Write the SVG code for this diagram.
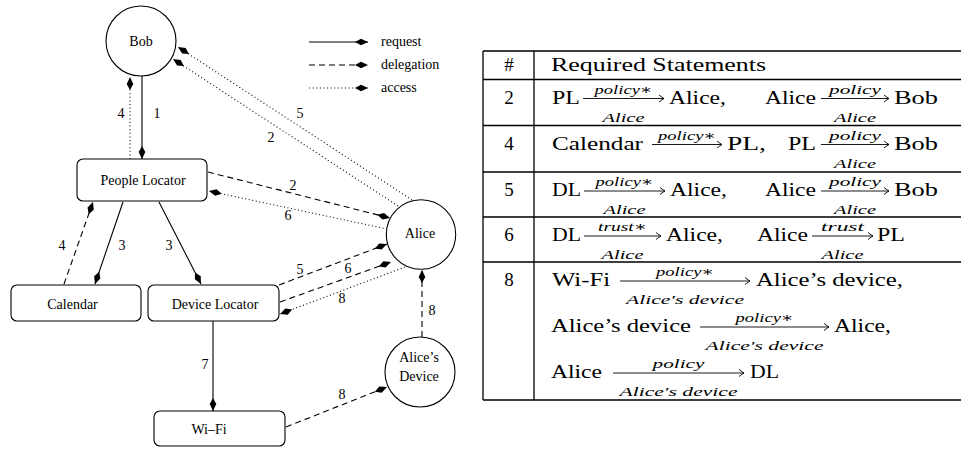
<svg xmlns="http://www.w3.org/2000/svg" width="961" height="450" viewBox="0 0 961 450">
<style>
.nd{fill:#fff;stroke:#000;stroke-width:1.1}
.nt{font-family:"Liberation Serif","Times New Roman","DejaVu Serif",serif;font-size:14px;text-anchor:middle;fill:#000}
.e{fill:none;stroke:#000;stroke-width:1.1}
.da{stroke-dasharray:6 4}
.do{stroke-dasharray:1 2.6}
.m{font-family:"Liberation Serif","Times New Roman","DejaVu Serif",serif;font-size:19px;fill:#000}
.s{font-family:"Liberation Serif","Times New Roman","DejaVu Serif",serif;font-style:italic;font-size:13px;fill:#000}
.c{text-anchor:middle}
.tl{stroke:#000;stroke-width:1.3;fill:none}
.ta{stroke:#000;stroke-width:0.9;fill:none}
</style>
<defs>
<marker id="hd" viewBox="-13 -4 13 8" markerWidth="13" markerHeight="8" refX="0" refY="0" orient="auto" markerUnits="userSpaceOnUse">
<path d="M0 0 L-7 -3.3 L-13 0 L-7 3.3 Z" fill="#000"/>
</marker>
</defs>

<g id="legend">
<line class="e" x1="309" y1="42" x2="368" y2="42" marker-end="url(#hd)"/>
<line class="e da" x1="309" y1="65" x2="368" y2="65" marker-end="url(#hd)"/>
<line class="e do" x1="309" y1="88" x2="368" y2="88" marker-end="url(#hd)"/>
<text class="nt" x="381" y="46" style="text-anchor:start">request</text>
<text class="nt" x="381" y="69" style="text-anchor:start">delegation</text>
<text class="nt" x="381" y="92" style="text-anchor:start">access</text>
</g>

<g id="connectors">
<line class="e" x1="142" y1="76" x2="142" y2="159" marker-end="url(#hd)"/>
<line class="e do" x1="130" y1="159" x2="130" y2="77" marker-end="url(#hd)"/>
<line class="e do" x1="412" y1="200" x2="178" y2="47" marker-end="url(#hd)"/>
<line class="e do" x1="398" y1="206" x2="173" y2="59" marker-end="url(#hd)"/>
<line class="e da" x1="208" y1="172" x2="390" y2="218" marker-end="url(#hd)"/>
<line class="e do" x1="387" y1="229" x2="209" y2="191" marker-end="url(#hd)"/>
<line class="e da" x1="64" y1="284" x2="93" y2="202" marker-end="url(#hd)"/>
<line class="e" x1="123" y1="202" x2="95" y2="284" marker-end="url(#hd)"/>
<line class="e" x1="159" y1="202" x2="201" y2="284" marker-end="url(#hd)"/>
<line class="e da" x1="279" y1="285" x2="387" y2="244" marker-end="url(#hd)"/>
<line class="e da" x1="280" y1="302" x2="391" y2="262" marker-end="url(#hd)"/>
<line class="e do" x1="405" y1="267" x2="280" y2="314" marker-end="url(#hd)"/>
<line class="e da" x1="422" y1="337" x2="422" y2="270" marker-end="url(#hd)"/>
<line class="e" x1="213" y1="321" x2="213" y2="411" marker-end="url(#hd)"/>
<line class="e da" x1="286" y1="427" x2="387" y2="387" marker-end="url(#hd)"/>
<text class="nt" x="157" y="118">1</text>
<text class="nt" x="121" y="118">4</text>
<text class="nt" x="300" y="118">5</text>
<text class="nt" x="271" y="142">2</text>
<text class="nt" x="293" y="190">2</text>
<text class="nt" x="288" y="220">6</text>
<text class="nt" x="62" y="250">4</text>
<text class="nt" x="122" y="250">3</text>
<text class="nt" x="169" y="250">3</text>
<text class="nt" x="300" y="274">5</text>
<text class="nt" x="348" y="273">6</text>
<text class="nt" x="342" y="303">8</text>
<text class="nt" x="432" y="315">8</text>
<text class="nt" x="205" y="369">7</text>
<text class="nt" x="342" y="399">8</text>
</g>

<g id="bob"><circle class="nd" cx="141" cy="41" r="35"/><text class="nt" x="141" y="46">Bob</text></g>
<g id="people-locator"><rect class="nd" x="77" y="159" width="130" height="42" rx="6"/><text class="nt" x="143" y="185">People Locator</text></g>
<g id="alice"><circle class="nd" cx="421" cy="234.5" r="34.7"/><text class="nt" x="420" y="238">Alice</text></g>
<g id="calendar"><rect class="nd" x="11" y="285" width="130" height="36" rx="6"/><text class="nt" x="72.5" y="309">Calendar</text></g>
<g id="device-locator"><rect class="nd" x="148" y="285" width="131" height="36" rx="6"/><text class="nt" x="215" y="309">Device Locator</text></g>
<g id="wifi"><rect class="nd" x="154" y="411" width="131" height="35" rx="6"/><text class="nt" x="209" y="434">Wi–Fi</text></g>
<g id="alices-device"><circle class="nd" cx="420" cy="372" r="35"/><text class="nt" x="419" y="362">Alice’s</text><text class="nt" x="419" y="381">Device</text></g>

<g id="table">
<path class="tl" d="M483 51 H961 M483 79.5 H961 M483 125.5 H961 M483 172 H961 M483 217 H961 M483 262 H961 M483 400 H961 M483 51 V400 M534 51 V400"/>
<text class="m c" x="509" y="71">#</text>
<text class="m" x="551" y="71" textLength="215" lengthAdjust="spacingAndGlyphs">Required Statements</text>

<!-- row 2 -->
<text class="m c" x="509" y="103.5">2</text>
<text class="m" x="552" y="103.5" textLength="28" lengthAdjust="spacingAndGlyphs">PL</text>
<path class="ta" d="M583 98.5 H664 M659 95 Q662.5 97.8 664 98.5 Q662.5 99.2 659 102"/>
<text class="s" x="594.5" y="93.5" textLength="58" lengthAdjust="spacingAndGlyphs">policy∗</text>
<text class="s" x="602.5" y="121.5" textLength="42" lengthAdjust="spacingAndGlyphs">Alice</text>
<text class="m" x="669" y="103.5" textLength="57" lengthAdjust="spacingAndGlyphs">Alice,</text>
<text class="m" x="765" y="103.5" textLength="51" lengthAdjust="spacingAndGlyphs">Alice</text>
<path class="ta" d="M821 98.5 H889 M884 95 Q887.5 97.8 889 98.5 Q887.5 99.2 884 102"/>
<text class="s" x="829" y="93.5" textLength="52" lengthAdjust="spacingAndGlyphs">policy</text>
<text class="s" x="834" y="121.5" textLength="42" lengthAdjust="spacingAndGlyphs">Alice</text>
<text class="m" x="894" y="103.5" textLength="44" lengthAdjust="spacingAndGlyphs">Bob</text>

<!-- row 4 -->
<text class="m c" x="509" y="149.5">4</text>
<text class="m" x="552" y="149.5" textLength="91" lengthAdjust="spacingAndGlyphs">Calendar</text>
<path class="ta" d="M652 144.5 H722 M717 141 Q720.5 143.8 722 144.5 Q720.5 145.2 717 148"/>
<text class="s" x="658" y="139.5" textLength="58" lengthAdjust="spacingAndGlyphs">policy∗</text>
<text class="m" x="727" y="149.5" textLength="39" lengthAdjust="spacingAndGlyphs">PL,</text>
<text class="m" x="788" y="149.5" textLength="28" lengthAdjust="spacingAndGlyphs">PL</text>
<path class="ta" d="M821 144.5 H889 M884 141 Q887.5 143.8 889 144.5 Q887.5 145.2 884 148"/>
<text class="s" x="829" y="139.5" textLength="52" lengthAdjust="spacingAndGlyphs">policy</text>
<text class="s" x="834" y="167.5" textLength="42" lengthAdjust="spacingAndGlyphs">Alice</text>
<text class="m" x="894" y="149.5" textLength="44" lengthAdjust="spacingAndGlyphs">Bob</text>

<!-- row 5 -->
<text class="m c" x="509" y="196">5</text>
<text class="m" x="552" y="196" textLength="29" lengthAdjust="spacingAndGlyphs">DL</text>
<path class="ta" d="M584 191 H665 M660 187.5 Q663.5 190.3 665 191 Q663.5 191.7 660 194.5"/>
<text class="s" x="595.5" y="186" textLength="58" lengthAdjust="spacingAndGlyphs">policy∗</text>
<text class="s" x="603.5" y="214" textLength="42" lengthAdjust="spacingAndGlyphs">Alice</text>
<text class="m" x="670" y="196" textLength="57" lengthAdjust="spacingAndGlyphs">Alice,</text>
<text class="m" x="765" y="196" textLength="51" lengthAdjust="spacingAndGlyphs">Alice</text>
<path class="ta" d="M821 191 H889 M884 187.5 Q887.5 190.3 889 191 Q887.5 191.7 884 194.5"/>
<text class="s" x="829" y="186" textLength="52" lengthAdjust="spacingAndGlyphs">policy</text>
<text class="s" x="834" y="214" textLength="42" lengthAdjust="spacingAndGlyphs">Alice</text>
<text class="m" x="894" y="196" textLength="44" lengthAdjust="spacingAndGlyphs">Bob</text>

<!-- row 6 -->
<text class="m c" x="509" y="241">6</text>
<text class="m" x="552" y="241" textLength="29" lengthAdjust="spacingAndGlyphs">DL</text>
<path class="ta" d="M584 236 H661 M656 232.5 Q659.5 235.3 661 236 Q659.5 236.7 656 239.5"/>
<text class="s" x="598" y="231" textLength="49" lengthAdjust="spacingAndGlyphs">trust∗</text>
<text class="s" x="601.5" y="259" textLength="42" lengthAdjust="spacingAndGlyphs">Alice</text>
<text class="m" x="666" y="241" textLength="57" lengthAdjust="spacingAndGlyphs">Alice,</text>
<text class="m" x="757" y="241" textLength="51" lengthAdjust="spacingAndGlyphs">Alice</text>
<path class="ta" d="M812 236 H873 M868 232.5 Q871.5 235.3 873 236 Q871.5 236.7 868 239.5"/>
<text class="s" x="821" y="231" textLength="43" lengthAdjust="spacingAndGlyphs">trust</text>
<text class="s" x="821.5" y="259" textLength="42" lengthAdjust="spacingAndGlyphs">Alice</text>
<text class="m" x="877" y="241" textLength="28" lengthAdjust="spacingAndGlyphs">PL</text>

<!-- row 8 -->
<text class="m c" x="509" y="286">8</text>
<text class="m" x="552" y="286" textLength="58" lengthAdjust="spacingAndGlyphs">Wi-Fi</text>
<path class="ta" d="M620 281 H750 M745 277.5 Q748.5 280.3 750 281 Q748.5 281.7 745 284.5"/>
<text class="s" x="656" y="276" textLength="58" lengthAdjust="spacingAndGlyphs">policy∗</text>
<text class="s" x="626" y="304" textLength="118" lengthAdjust="spacingAndGlyphs">Alice′s device</text>
<text class="m" x="756" y="286" textLength="147" lengthAdjust="spacingAndGlyphs">Alice’s device,</text>

<text class="m" x="551" y="332" textLength="140" lengthAdjust="spacingAndGlyphs">Alice’s device</text>
<path class="ta" d="M700 327 H829 M824 323.5 Q827.5 326.3 829 327 Q827.5 327.7 824 330.5"/>
<text class="s" x="735.5" y="322" textLength="58" lengthAdjust="spacingAndGlyphs">policy∗</text>
<text class="s" x="705.5" y="350" textLength="118" lengthAdjust="spacingAndGlyphs">Alice′s device</text>
<text class="m" x="834" y="332" textLength="57" lengthAdjust="spacingAndGlyphs">Alice,</text>

<text class="m" x="551" y="378" textLength="51" lengthAdjust="spacingAndGlyphs">Alice</text>
<path class="ta" d="M613 373 H744 M739 369.5 Q742.5 372.3 744 373 Q742.5 373.7 739 376.5"/>
<text class="s" x="652.5" y="368" textLength="52" lengthAdjust="spacingAndGlyphs">policy</text>
<text class="s" x="619.5" y="396" textLength="118" lengthAdjust="spacingAndGlyphs">Alice′s device</text>
<text class="m" x="750" y="378" textLength="29" lengthAdjust="spacingAndGlyphs">DL</text>
</g>
</svg>
